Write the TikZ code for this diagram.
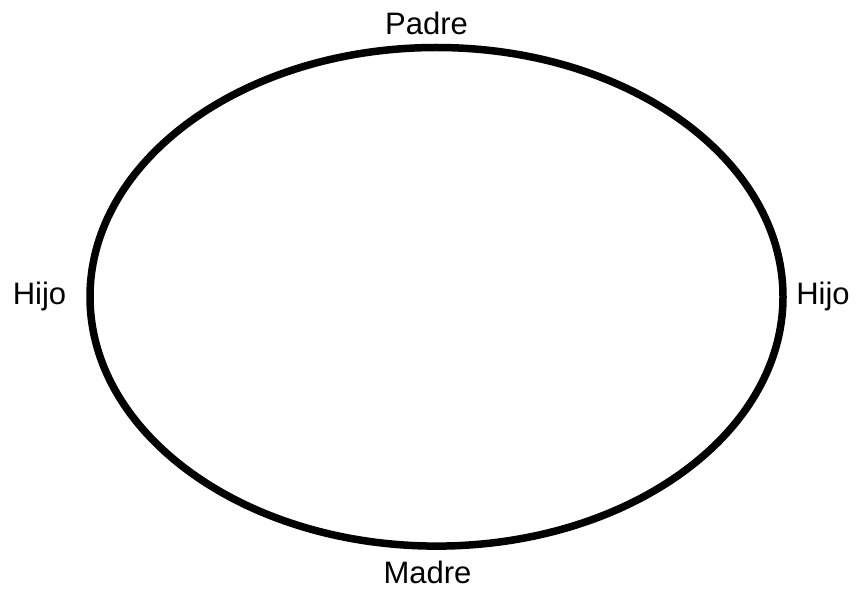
\documentclass[tikz,border=0pt]{standalone}
\usepackage{fontspec}
\setmainfont{Liberation Sans}
\usepackage{tikz}

\begin{document}
\begin{tikzpicture}[x=1pt, y=-1pt,
  lbl/.style={anchor=base, inner sep=0pt, font=\fontsize{31}{36}\selectfont}]
\useasboundingbox (0,0) rectangle (857,596);
\draw[line width=7.5pt] (436.5,296.8) ellipse [x radius=346.5, y radius=249.3];
\node[lbl] (padre) at (426.5,35) {Padre};
\node[lbl] (madre) at (427.5,583) {Madre};
\node[lbl] (hijoL) at (39.5,304) {Hijo};
\node[lbl] (hijoR) at (823,304) {Hijo};
\end{tikzpicture}
\end{document}
